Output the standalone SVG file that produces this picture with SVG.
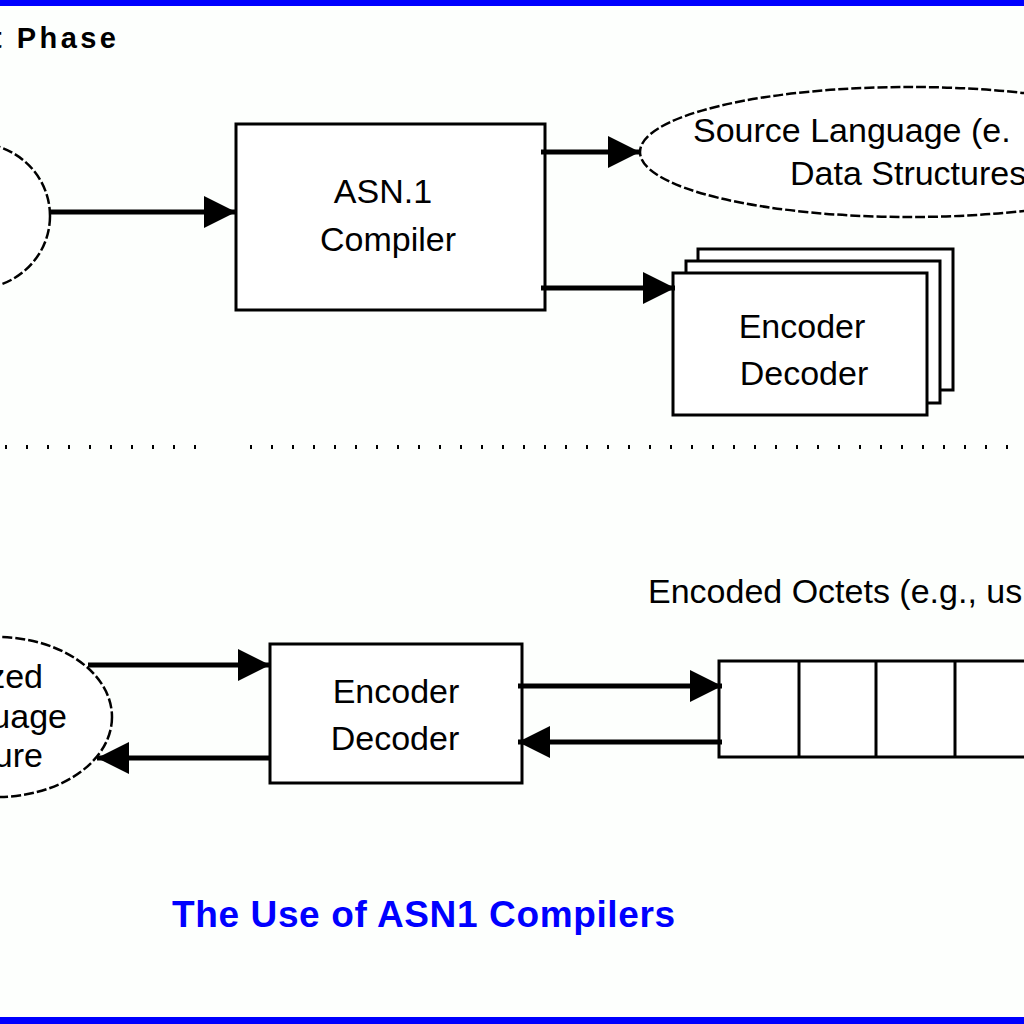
<svg xmlns="http://www.w3.org/2000/svg" width="1024" height="1024" viewBox="0 0 1024 1024">
<defs>
<style>
.box{fill:#fff;stroke:#000;stroke-width:3}
.ell{fill:#fff;stroke:#000;stroke-width:2.5;stroke-dasharray:10 3}
.lbl{font-family:"Liberation Sans",Arial,sans-serif;font-size:34px;fill:#000}
.conn{stroke:#000;stroke-width:5;fill:none}
</style>
<marker id="ah" markerUnits="userSpaceOnUse" markerWidth="34" markerHeight="34" refX="32" refY="16" orient="auto">
<path d="M0,0 L32,16 L0,32 Z" fill="#000"/>
</marker>
</defs>
<rect x="0" y="0" width="1024" height="1024" fill="#fdfffd"/>
<rect x="0" y="0" width="1024" height="6" fill="#0000ff"/>
<rect x="0" y="1017" width="1024" height="7" fill="#0000ff"/>
<text x="-8" y="48" textLength="124" lengthAdjust="spacing" style="font-family:'Liberation Sans',Arial,sans-serif;font-size:29px;font-weight:bold" fill="#000">t Phase</text>

<g id="src-top">
<ellipse class="ell" cx="-25" cy="216" rx="75" ry="73"/>
</g>
<g id="compiler">
<rect class="box" x="236" y="124" width="309" height="186"/>
<text class="lbl" x="383" y="203" text-anchor="middle">ASN.1</text>
<text class="lbl" x="388" y="251" text-anchor="middle">Compiler</text>
</g>
<g id="source-lang">
<ellipse class="ell" cx="910" cy="152" rx="270" ry="65"/>
<text class="lbl" x="693" y="142">Source Language (e.</text>
<text class="lbl" x="790" y="185">Data Structures</text>
</g>
<g id="codec-stack">
<rect class="box" x="698" y="249" width="255" height="141"/>
<rect class="box" x="686" y="261" width="254" height="142"/>
<rect class="box" x="673" y="273" width="254" height="142"/>
<text class="lbl" x="802" y="338" text-anchor="middle">Encoder</text>
<text class="lbl" x="804" y="385" text-anchor="middle">Decoder</text>
</g>

<line x1="5" y1="447" x2="215" y2="447" stroke="#000" stroke-width="4" stroke-dasharray="2 19"/>
<line x1="250" y1="447" x2="1020" y2="447" stroke="#000" stroke-width="4" stroke-dasharray="2 19"/>

<g id="lang-struct">
<ellipse class="ell" cx="-3" cy="717" rx="115" ry="80"/>
<text class="lbl" x="43" y="688" text-anchor="end">zed</text>
<text class="lbl" x="67" y="728" text-anchor="end">uage</text>
<text class="lbl" x="43" y="767" text-anchor="end">ure</text>
</g>
<g id="codec">
<rect class="box" x="270" y="644" width="252" height="139"/>
<text class="lbl" x="396" y="703" text-anchor="middle">Encoder</text>
<text class="lbl" x="395" y="750" text-anchor="middle">Decoder</text>
</g>
<g id="octets">
<text class="lbl" x="648" y="603">Encoded Octets (e.g., us</text>
<rect class="box" x="719" y="661" width="320" height="96"/>
<line x1="799" y1="661" x2="799" y2="757" stroke="#000" stroke-width="3"/>
<line x1="876" y1="661" x2="876" y2="757" stroke="#000" stroke-width="3"/>
<line x1="955" y1="661" x2="955" y2="757" stroke="#000" stroke-width="3"/>
</g>

<g id="connectors">
<line class="conn" x1="50" y1="212" x2="236" y2="212" marker-end="url(#ah)"/>
<line class="conn" x1="541" y1="152" x2="640" y2="152" marker-end="url(#ah)"/>
<line class="conn" x1="541" y1="288" x2="675" y2="288" marker-end="url(#ah)"/>
<line class="conn" x1="88" y1="665" x2="270" y2="665" marker-end="url(#ah)"/>
<line class="conn" x1="270" y1="758" x2="97" y2="758" marker-end="url(#ah)"/>
<line class="conn" x1="518" y1="686" x2="722" y2="686" marker-end="url(#ah)"/>
<line class="conn" x1="722" y1="742" x2="518" y2="742" marker-end="url(#ah)"/>
</g>

<text x="172" y="927" textLength="503" lengthAdjust="spacing" style="font-family:'Liberation Sans',Arial,sans-serif;font-size:37px;font-weight:bold" fill="#0000ff">The Use of ASN1 Compilers</text>
</svg>
